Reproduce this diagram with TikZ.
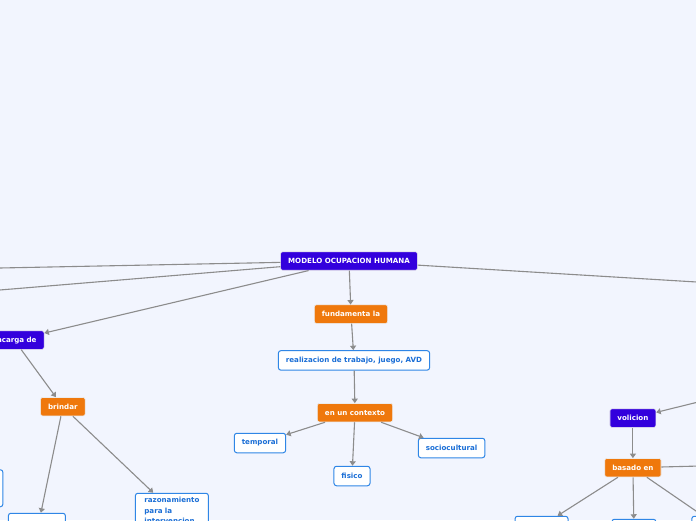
\documentclass[tikz,border=0pt]{standalone}
\usepackage{fontspec}
\setmainfont{DejaVu Sans}
\usetikzlibrary{positioning, arrows.meta}

\definecolor{bgblue}{HTML}{F2F5FE}
\definecolor{indigo}{HTML}{3300DD}
\definecolor{mmorange}{HTML}{EF780C}
\definecolor{leafblue}{HTML}{2F86E6}
\definecolor{leaftext}{HTML}{1A6ED6}
\definecolor{linkgray}{HTML}{8C8C8C}

\begin{document}
\begin{tikzpicture}[x=1pt, y=-1pt,
    every node/.style={font=\fontsize{7.1}{10.5}\selectfont\bfseries},
    mainnode/.style={rectangle, rounded corners=2pt, fill=indigo, draw=white!85!gray, line width=0.6pt, text=white, minimum height=18.5pt, inner xsep=7.5pt},
    linknode/.style={rectangle, rounded corners=2pt, fill=mmorange, draw=white!85!gray, line width=0.6pt, text=white, minimum height=18.5pt, inner xsep=7.5pt},
    leaf/.style={rectangle, rounded corners=2.5pt, fill=white, draw=leafblue, line width=1pt, text=leaftext, minimum height=19.5pt, inner xsep=7.5pt},
    link/.style={draw=linkgray, line width=1.1pt, -{Triangle[length=4.5pt, width=6pt]}}]

    % background and page size
    \fill[bgblue] (0,0) rectangle (696,520);
    \useasboundingbox (0,0) rectangle (696,520);

    %-----Nodes-----

    % Central topic
    \node[mainnode] (root) at (349,261) {MODELO OCUPACION HUMANA};

    % Middle branch
    \node[linknode, below=34pt of root, xshift=2pt] (fund) {fundamenta la};
    \node[leaf, below=26.5pt of fund, xshift=3pt] (real) {realizacion de trabajo, juego, AVD};
    \node[linknode, below=32.5pt of real, xshift=1pt] (ctx) {en un contexto};
    \node[leaf, below left=10.5pt and 31pt of ctx] (temp) {temporal};
    \node[leaf, below=43.5pt of ctx, xshift=-3pt] (fis) {fisico};
    \node[leaf, below right=15.5pt and 25pt of ctx] (socio) {sociocultural};

    % Left branch
    \node[mainnode, below left=60pt and 236pt of root] (encarga) {encarga de};
    \node[linknode, below right=47.5pt and -4pt of encarga] (brindar) {brindar};
    \node[leaf, minimum width=57pt, minimum height=38pt, below=96.5pt of brindar, xshift=-26pt] (brindA) {};
    \node[leaf, align=left, text width=55pt, inner xsep=9pt, inner ysep=4pt, below=76.5pt of brindar, xshift=109pt] (razon) {razonamiento\\para la\\intervencion};
    \node[leaf, minimum width=70pt, minimum height=37pt, below left=53pt and 37pt of brindar] (leftbox) {};

    % Right branch
    \node[mainnode, below right=138pt and 192pt of root] (vol) {volicion};
    \node[linknode, below=30.5pt of vol] (basado) {basado en};
    \node[leaf, minimum width=53pt, below left=38.5pt and 36pt of basado] (basC) {};
    \node[leaf, minimum width=44pt, below=41.5pt of basado, xshift=1pt] (basD) {};
    \node[leaf, minimum width=52pt, below right=38.5pt and 30pt of basado] (basE) {};

    % free ends outside the page
    \coordinate (offL1) at (-200,272);
    \coordinate (offL2) at (-200,306.6);
    \coordinate (offR) at (900,294.3);
    \coordinate (volsrc) at (820,372);
    \coordinate (basR) at (800,463.5);

    %-----Connectors-----
    \draw[link] (root) -- (offL1);
    \draw[link] (root) -- (offL2);
    \draw[link] (root) -- (offR);
    \draw[link] (root) -- (encarga);
    \draw[link] (root) -- (fund);
    \draw[link] (fund) -- (real);
    \draw[link] (real) -- (ctx);
    \draw[link] (ctx) -- (temp);
    \draw[link] (ctx) -- (fis);
    \draw[link] (ctx) -- (socio);
    \draw[link] (encarga) -- (brindar);
    \draw[link] (brindar) -- (brindA);
    \draw[link] (brindar) -- (razon);
    \draw[link] (volsrc) -- (vol);
    \draw[link] (vol) -- (basado);
    \draw[link] (basado) -- (basR);
    \draw[link] (basado) -- (basC);
    \draw[link] (basado) -- (basD);
    \draw[link] (basado) -- (basE);

\end{tikzpicture}
\end{document}
